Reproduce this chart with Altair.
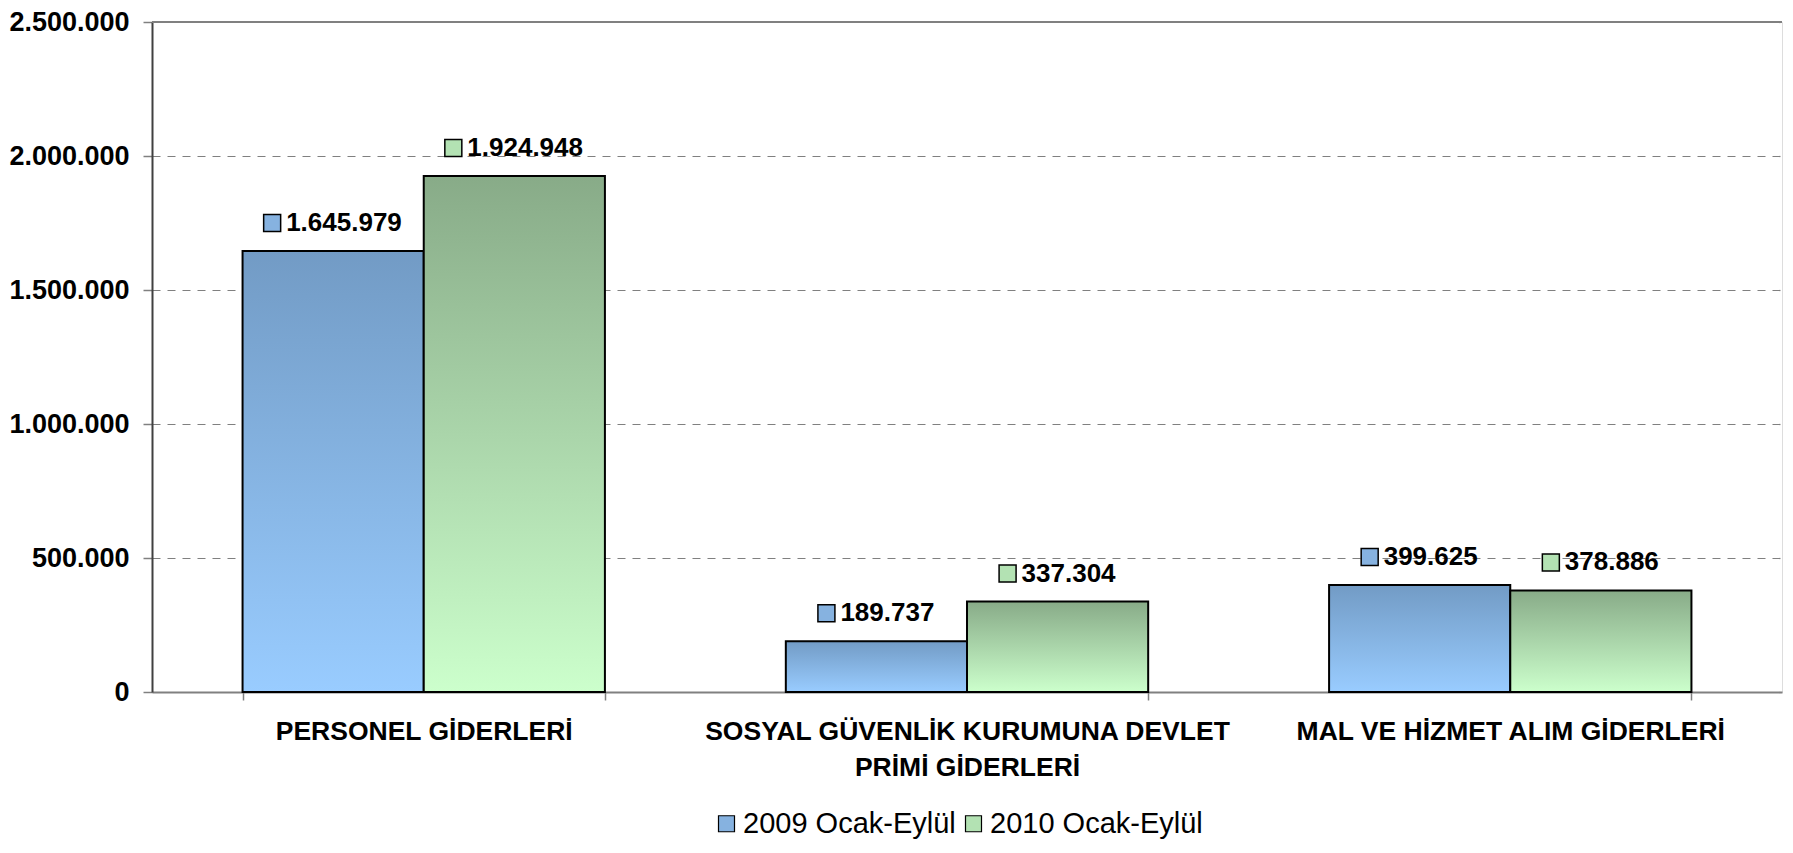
import altair as alt
import pandas as pd

categories = [
    "PERSONEL GİDERLERİ",
    "SOSYAL GÜVENLİK KURUMUNA DEVLET PRİMİ GİDERLERİ",
    "MAL VE HİZMET ALIM GİDERLERİ",
]
category_lines = [
    ["PERSONEL GİDERLERİ"],
    ["SOSYAL GÜVENLİK KURUMUNA DEVLET", "PRİMİ GİDERLERİ"],
    ["MAL VE HİZMET ALIM GİDERLERİ"],
]
series = ["2009 Ocak-Eylül", "2010 Ocak-Eylül"]
values_2009 = [1645979, 189737, 399625]
values_2010 = [1924948, 337304, 378886]
y_ticks = [0, 500000, 1000000, 1500000, 2000000, 2500000]

rows = []
for c, v in zip(categories, values_2009):
    rows.append({"category": c, "series": series[0], "value": v})
for c, v in zip(categories, values_2010):
    rows.append({"category": c, "series": series[1], "value": v})
df = pd.DataFrame(rows)

# label expression for multi-line category labels
parts = []
for c, lines in zip(categories, category_lines):
    if len(lines) > 1:
        arr = "[" + ", ".join("'" + l + "'" for l in lines) + "]"
        parts.append(f"datum.label == '{c}' ? {arr} : ")
label_expr = "".join(parts) + "datum.label"

FONT = "Liberation Sans"
FS = 26

x_enc = alt.X(
    "category:N",
    sort=categories,
    scale=alt.Scale(paddingInner=0.333, paddingOuter=0.1667),
    axis=alt.Axis(
        title=None,
        labelAngle=0,
        labelFont=FONT,
        labelFontSize=26.5,
        labelFontWeight="bold",
        labelColor="black",
        labelLimit=1000,
        labelExpr=label_expr,
        labelLineHeight=36,
        labelPadding=18,
        tickBand="extent",
        tickSize=8,
        tickColor="#808080",
        tickWidth=1.5,
        domainColor="#808080",
        domainWidth=2,
        grid=False,
    ),
)
xoff = alt.XOffset("series:N", scale=alt.Scale(domain=series, paddingInner=0, paddingOuter=0))
y_enc = alt.Y(
    "value:Q",
    scale=alt.Scale(domain=[0, 2500000], nice=False),
    axis=alt.Axis(
        title=None,
        values=y_ticks,
        format=",d",
        labelFont=FONT,
        labelFontSize=27,
        labelFontWeight="bold",
        labelColor="black",
        labelPadding=14,
        tickSize=9,
        tickColor="#808080",
        tickWidth=1.5,
        domainColor="#404040",
        domainWidth=2,
        grid=True,
        gridColor="#808080",
        gridDash=[8, 7],
        gridWidth=1.2,
    ),
)

def grad(top, bottom):
    return alt.Gradient(
        gradient="linear",
        x1=0, x2=0, y1=0, y2=1,
        stops=[alt.GradientStop(color=top, offset=0), alt.GradientStop(color=bottom, offset=1)],
    )

base = alt.Chart(df)

bars_2009 = base.transform_filter(alt.datum.series == series[0]).mark_bar(
    fill=grad("#729bc5", "#99ccff"), stroke="black", strokeWidth=2
).encode(x=x_enc, xOffset=xoff, y=y_enc)

bars_2010 = base.transform_filter(alt.datum.series == series[1]).mark_bar(
    fill=grad("#88ab88", "#ccffcc"), stroke="black", strokeWidth=2
).encode(x=x_enc, xOffset=xoff, y=y_enc)

top_rule = base.mark_rule(color="#808080", strokeWidth=2).encode(y=alt.datum(2500000))

color_enc = alt.Color(
    "series:N",
    scale=alt.Scale(domain=series, range=["#86b2e0", "#b3e2b3"]),
    legend=alt.Legend(
        title=None,
        orient="none",
        legendX=560,
        legendY=787,
        direction="horizontal",
        labelFont=FONT,
        labelFontSize=29,
        labelColor="black",
        labelLimit=1000,
        symbolType="square",
        symbolSize=256,
        symbolStrokeColor="black",
        symbolStrokeWidth=1.2,
        symbolOpacity=1,
        labelOffset=2,
        columnPadding=3,
    ),
)

labeled = base.transform_calculate(label="format(datum.value, ',d')")
long_f = "length(datum.label) > 7"
short_f = "length(datum.label) <= 7"

# Legend-key squares beside the data labels; custom path in symbol units
# (size 400 -> 1 unit = 10 px), offset left of the bar centre and above the bar top.
SQ_SIZE = 400
path_long = "M -6.95 -3.65 H -5.25 V -1.95 H -6.95 Z"
path_short = "M -5.85 -3.65 H -4.15 V -1.95 H -5.85 Z"

sq_long = labeled.transform_filter(long_f).mark_point(
    shape=path_long, filled=True, size=SQ_SIZE, stroke="black", strokeWidth=1.5, opacity=1,
).encode(x=x_enc, xOffset=xoff, y=y_enc, color=color_enc)
sq_short = labeled.transform_filter(short_f).mark_point(
    shape=path_short, filled=True, size=SQ_SIZE, stroke="black", strokeWidth=1.5, opacity=1,
).encode(x=x_enc, xOffset=xoff, y=y_enc, color=color_enc)

DY = -28
txt_long = labeled.transform_filter(long_f).mark_text(
    align="left", baseline="middle", dx=-47, dy=DY, font=FONT, fontSize=FS, fontWeight="bold", color="black"
).encode(x=x_enc, xOffset=xoff, y=y_enc, text="label:N")
txt_short = labeled.transform_filter(short_f).mark_text(
    align="left", baseline="middle", dx=-36, dy=DY, font=FONT, fontSize=FS, fontWeight="bold", color="black"
).encode(x=x_enc, xOffset=xoff, y=y_enc, text="label:N")

chart = alt.layer(
    bars_2009, bars_2010, top_rule, sq_long, sq_short, txt_long, txt_short
).properties(
    width=1630, height=670,
    autosize=alt.AutoSizeParams(type="none"),
    padding={"left": 144, "top": 14, "right": 3, "bottom": 152},
).configure_view(stroke=None).configure(
    locale={"number": {"decimal": ",", "thousands": ".", "grouping": [3], "currency": ["", ""]}}
)

chart.save("out.html", embed_options={"renderer": "svg", "actions": False})
